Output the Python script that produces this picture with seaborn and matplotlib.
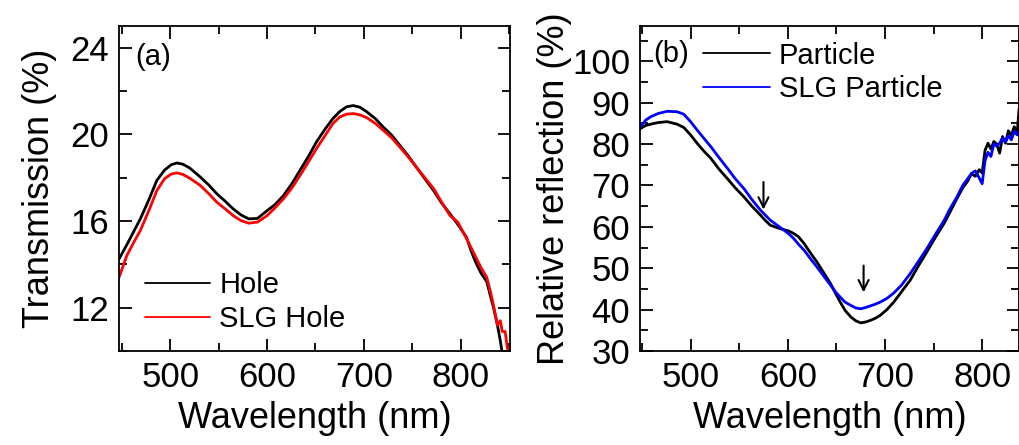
import matplotlib
matplotlib.use("Agg")
import matplotlib.pyplot as plt
import seaborn as sns
from matplotlib.ticker import MultipleLocator

# (a) transmission, hole arrays
hole_wl = [447, 455, 462, 469, 478, 486, 494, 501, 507, 513, 520, 531, 540, 548, 557, 565, 573, 581,
           590, 600, 608, 617, 626, 634, 643, 651, 660, 668, 675, 682, 689, 696, 703, 712, 720, 729,
           737, 746, 754, 763, 772, 780, 789, 797, 806, 811, 816, 821, 827, 831, 834, 838, 841, 843]
hole_t = [14.25, 14.9, 15.5, 16.1, 17.0, 17.87, 18.35, 18.6, 18.68, 18.62, 18.45, 18.03, 17.65, 17.26,
          16.9, 16.56, 16.28, 16.1, 16.12, 16.48, 16.75, 17.18, 17.75, 18.34, 19.0, 19.65, 20.25, 20.73,
          21.05, 21.27, 21.33, 21.25, 21.04, 20.72, 20.34, 19.95, 19.5, 19.0, 18.5, 17.95, 17.41, 16.85,
          16.33, 15.85, 15.25, 14.6, 14.05, 13.6, 13.2, 12.5, 12.0, 11.2, 10.47, 9.9]
slg_hole_t = [13.4, 14.4, 15.0, 15.56, 16.5, 17.4, 17.95, 18.17, 18.22, 18.15, 17.98, 17.64, 17.25,
              16.87, 16.55, 16.25, 16.02, 15.9, 15.95, 16.25, 16.6, 17.03, 17.55, 18.1, 18.75, 19.34,
              19.95, 20.5, 20.8, 20.93, 20.96, 20.9, 20.77, 20.5, 20.19, 19.83, 19.42, 18.95, 18.5,
              18.0, 17.5, 16.9, 16.25, 15.95, 15.2, 14.75, 14.3, 13.85, 13.4, 12.7, 12.1, 11.2, 11.4, 10.9]
hole_wl_red_end = [846, 849]
slg_hole_t_end = [10.9, 9.9]

# (b) relative reflection, particle arrays
part_wl = [448, 454, 459, 467, 476, 486, 493, 500, 507, 514, 521, 529, 538, 546, 555, 563, 572, 577,
           582, 589, 596, 601, 606, 611, 617, 623, 630, 637, 644, 649, 654, 659, 665, 670, 675, 680,
           685, 690, 695, 702, 709, 717, 726, 734, 743, 752, 761, 767, 774, 780, 785, 789, 793, 797,
           800, 803, 806, 809, 812, 815, 818, 821, 824, 827, 830, 833, 836, 838]
particle_r = [83.7, 84.5, 84.8, 85.2, 85.4, 84.8, 84.0, 82.2, 80.1, 78.2, 76.5, 74.0, 71.6, 69.4, 67.2,
              65.0, 62.8, 61.5, 60.4, 59.8, 59.3, 59.0, 58.4, 57.6, 55.9, 53.8, 51.5, 48.9, 46.3, 44.0,
              41.8, 39.8, 38.2, 37.3, 36.8, 37.0, 37.4, 37.9, 38.6, 40.0, 41.8, 44.3, 47.1, 50.4, 53.9,
              57.5, 60.9, 63.6, 66.8, 69.4, 71.0, 72.8, 72.2, 73.8, 73.0, 78.5, 80.2, 78.8, 80.6, 80.0,
              77.8, 81.8, 80.2, 83.2, 82.0, 84.2, 82.6, 88.5]
slg_particle_r = [84.1, 85.8, 86.6, 87.4, 87.9, 87.8, 87.2, 85.4, 83.3, 81.3, 79.3, 76.8, 74.1, 71.6,
                  69.2, 66.6, 64.0, 62.8, 61.6, 60.4, 59.2, 58.3, 57.2, 55.8, 54.3, 52.4, 50.3, 48.1,
                  45.9, 44.3, 43.0, 41.8, 41.0, 40.4, 40.2, 40.5, 40.9, 41.3, 41.8, 42.7, 44.0, 45.9,
                  48.7, 51.5, 54.7, 58.2, 61.6, 64.4, 67.2, 70.0, 71.6, 72.9, 73.5, 71.8, 70.4, 76.0,
                  78.0, 77.0, 80.0, 79.5, 80.2, 81.5, 80.5, 82.0, 81.0, 83.0, 82.2, 83.3]

# arrows marking the dips in (b): (wavelength, top, bottom)
arrows_b = [(575, 71.5, 63.5), (678, 51.3, 43.5)]

sns.set_style("ticks")
plt.rcParams['font.family'] = ['Liberation Sans', 'DejaVu Sans']
plt.rcParams['axes.linewidth'] = 1.3
for key in ('text.color', 'axes.labelcolor', 'xtick.color', 'ytick.color', 'axes.edgecolor'):
    plt.rcParams[key] = 'black'

fig = plt.figure(figsize=(10.2, 4.45), dpi=100)
ax_a = fig.add_axes([0.1167, 0.2112, 0.3833, 0.7303])
ax_b = fig.add_axes([0.6275, 0.2112, 0.3716, 0.7303])

sns.lineplot(x=hole_wl, y=hole_t, ax=ax_a, color='black', lw=2, label='Hole')
sns.lineplot(x=hole_wl + hole_wl_red_end, y=slg_hole_t + slg_hole_t_end, ax=ax_a,
             color='#ff0000', lw=2, label='SLG Hole')
sns.lineplot(x=part_wl, y=particle_r, ax=ax_b, color='black', lw=2, label='Particle')
sns.lineplot(x=part_wl, y=slg_particle_r, ax=ax_b, color='#0000ff', lw=2, label='SLG Particle')

ax_a.set_xlim(447, 851)
ax_a.set_ylim(10, 25)
ax_a.yaxis.set_major_locator(MultipleLocator(4))
ax_a.yaxis.set_minor_locator(MultipleLocator(2))
ax_a.set_ylabel('Transmission (%)', fontsize=26)

ax_b.set_xlim(448, 838)
ax_b.set_ylim(30, 108.5)
ax_b.set_yticks([30, 40, 50, 60, 70, 80, 90, 100])
ax_b.yaxis.set_minor_locator(MultipleLocator(5))
ax_b.set_ylabel('Relative reflection (%)', fontsize=26)

for ax in (ax_a, ax_b):
    ax.xaxis.set_major_locator(MultipleLocator(100))
    ax.xaxis.set_minor_locator(MultipleLocator(50))
    ax.set_xlabel('Wavelength (nm)', fontsize=26, labelpad=5)
    ax.tick_params(which='both', direction='in', top=True, right=True, width=1.3,
                   labelsize=25, pad=7)
    ax.tick_params(which='major', length=9)
    ax.tick_params(which='minor', length=5.5)
    for s in ax.spines.values():
        s.set_visible(True)
        s.set_color('black')

ax_a.yaxis.labelpad = 10
ax_b.yaxis.labelpad = 0

ax_a.legend(loc='center left', bbox_to_anchor=(0.066, 0.151), frameon=False, fontsize=21,
            handlelength=2.25, handletextpad=0.3, labelspacing=0.2, borderpad=0, borderaxespad=0)
ax_b.legend(loc='center left', bbox_to_anchor=(0.166, 0.857), frameon=False, fontsize=21,
            handlelength=2.3, handletextpad=0.3, labelspacing=0.2, borderpad=0, borderaxespad=0)
for leg in (ax_a.get_legend(), ax_b.get_legend()):
    for line in leg.get_lines():
        line.set_linewidth(1.3)

ax_a.text(0.041, 0.905, '(a)', transform=ax_a.transAxes, fontsize=21, va='center', ha='left')
ax_b.text(0.034, 0.914, '(b)', transform=ax_b.transAxes, fontsize=21, va='center', ha='left')

for wl, top, bot in arrows_b:
    ax_b.annotate('', xy=(wl, bot), xytext=(wl, top),
                  arrowprops=dict(arrowstyle='->', color='black', lw=1.5, mutation_scale=18))

fig.savefig('out.png', dpi=100)
